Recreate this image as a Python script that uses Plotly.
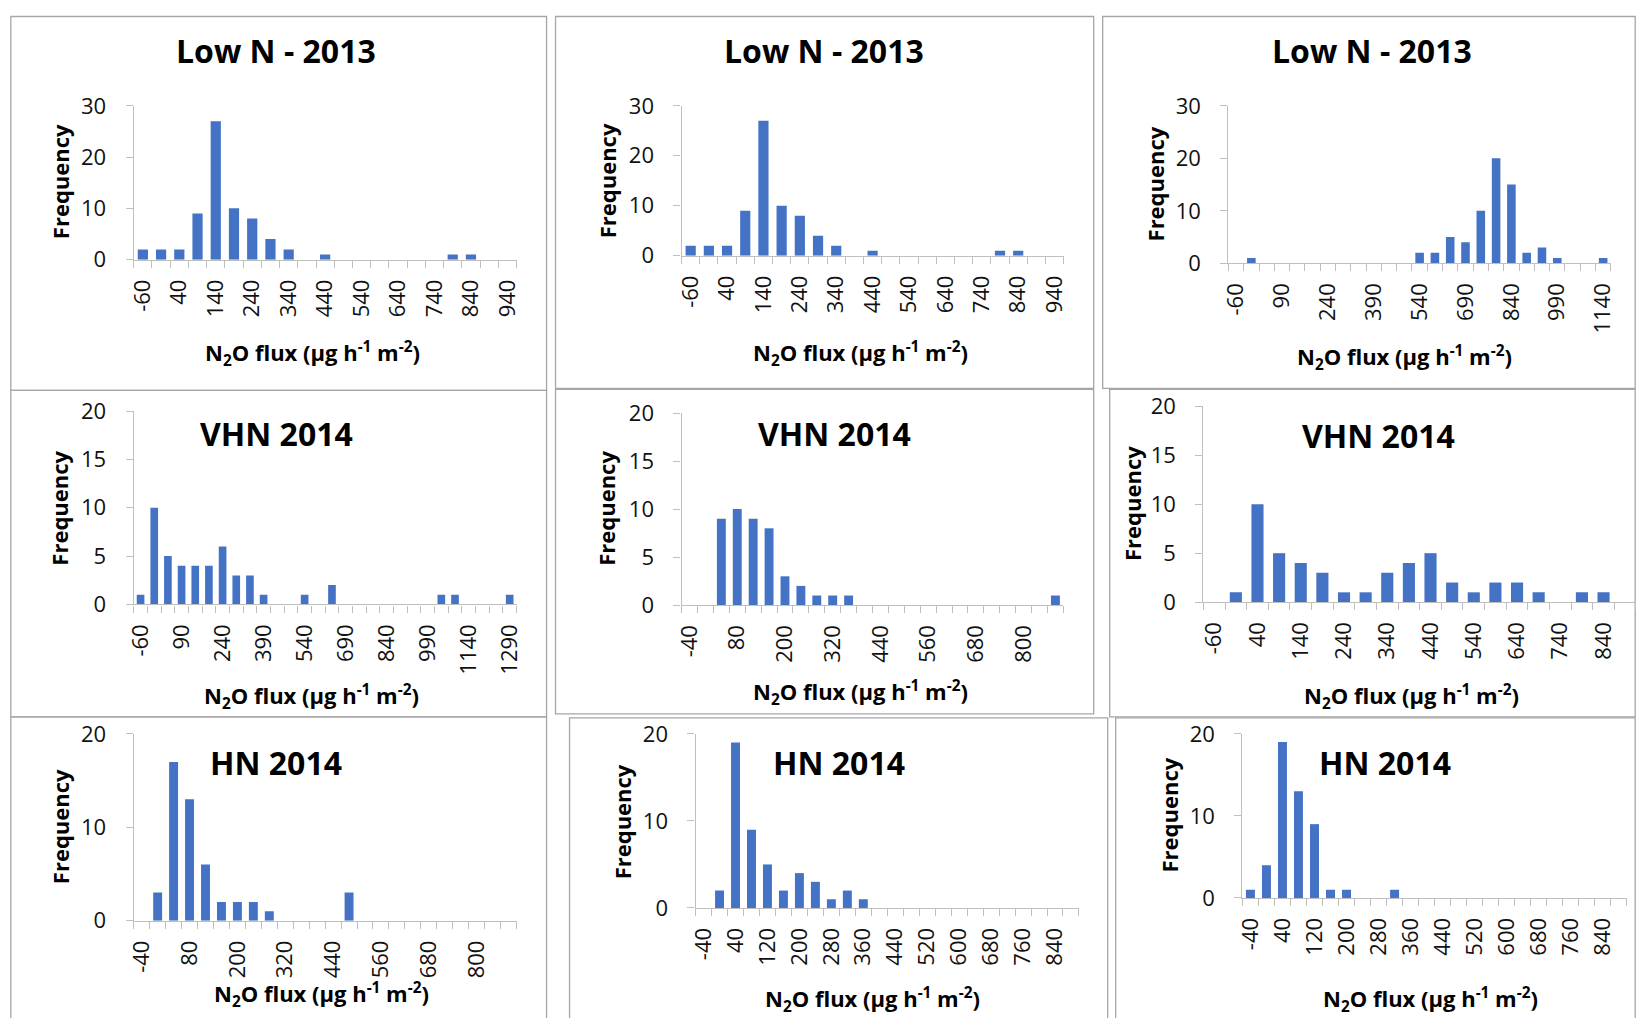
import plotly.graph_objects as go

# ---------------- data ----------------
# Low N - 2013 (left)
lown_a_bins = [-60, -10, 40, 90, 140, 190, 240, 290, 340, 390, 440, 490, 540, 590, 640, 690, 740, 790, 840, 890, 940]
lown_a_freq = [2, 2, 2, 9, 27, 10, 8, 4, 2, 0, 1, 0, 0, 0, 0, 0, 0, 1, 1, 0, 0]
lown_a_ticks = [-60, 40, 140, 240, 340, 440, 540, 640, 740, 840, 940]

# Low N - 2013 (middle)
lown_b_bins = [-60, -10, 40, 90, 140, 190, 240, 290, 340, 390, 440, 490, 540, 590, 640, 690, 740, 790, 840, 890, 940]
lown_b_freq = [2, 2, 2, 9, 27, 10, 8, 4, 2, 0, 1, 0, 0, 0, 0, 0, 0, 1, 1, 0, 0]
lown_b_ticks = [-60, 40, 140, 240, 340, 440, 540, 640, 740, 840, 940]

# Low N - 2013 (right)
lown_c_bins = [-60, -10, 40, 90, 140, 190, 240, 290, 340, 390, 440, 490, 540, 590, 640, 690, 740, 790, 840, 890,
               940, 990, 1040, 1090, 1140]
lown_c_freq = [0, 1, 0, 0, 0, 0, 0, 0, 0, 0, 0, 0, 2, 2, 5, 4, 10, 20, 15, 2, 3, 1, 0, 0, 1]
lown_c_ticks = [-60, 90, 240, 390, 540, 690, 840, 990, 1140]

# VHN 2014 (left)
vhn_a_bins = [-60, -10, 40, 90, 140, 190, 240, 290, 340, 390, 440, 490, 540, 590, 640, 690, 740, 790, 840, 890,
              940, 990, 1040, 1090, 1140, 1190, 1240, 1290]
vhn_a_freq = [1, 10, 5, 4, 4, 4, 6, 3, 3, 1, 0, 0, 1, 0, 2, 0, 0, 0, 0, 0, 0, 0, 1, 1, 0, 0, 0, 1]
vhn_a_ticks = [-60, 90, 240, 390, 540, 690, 840, 990, 1140, 1290]

# VHN 2014 (middle)
vhn_b_bins = [-40, 0, 40, 80, 120, 160, 200, 240, 280, 320, 360, 400, 440, 480, 520, 560, 600, 640, 680, 720,
              760, 800, 840, 880]
vhn_b_freq = [0, 0, 9, 10, 9, 8, 3, 2, 1, 1, 1, 0, 0, 0, 0, 0, 0, 0, 0, 0, 0, 0, 0, 1]
vhn_b_ticks = [-40, 80, 200, 320, 440, 560, 680, 800]

# VHN 2014 (right)
vhn_c_bins = [-60, -10, 40, 90, 140, 190, 240, 290, 340, 390, 440, 490, 540, 590, 640, 690, 740, 790, 840, 890]
vhn_c_freq = [0, 1, 10, 5, 4, 3, 1, 1, 3, 4, 5, 2, 1, 2, 2, 1, 0, 1, 1, 0]
vhn_c_ticks = [-60, 40, 140, 240, 340, 440, 540, 640, 740, 840]

# HN 2014 (left)
hn_a_bins = [-40, 0, 40, 80, 120, 160, 200, 240, 280, 320, 360, 400, 440, 480, 520, 560, 600, 640, 680, 720,
             760, 800, 840, 880]
hn_a_freq = [0, 3, 17, 13, 6, 2, 2, 2, 1, 0, 0, 0, 0, 3, 0, 0, 0, 0, 0, 0, 0, 0, 0, 0]
hn_a_ticks = [-40, 80, 200, 320, 440, 560, 680, 800]

# HN 2014 (middle)
hn_b_bins = [-40, 0, 40, 80, 120, 160, 200, 240, 280, 320, 360, 400, 440, 480, 520, 560, 600, 640, 680, 720,
             760, 800, 840, 880]
hn_b_freq = [0, 2, 19, 9, 5, 2, 4, 3, 1, 2, 1, 0, 0, 0, 0, 0, 0, 0, 0, 0, 0, 0, 0, 0]
hn_b_ticks = [-40, 40, 120, 200, 280, 360, 440, 520, 600, 680, 760, 840]

# HN 2014 (right)
hn_c_bins = [-40, 0, 40, 80, 120, 160, 200, 240, 280, 320, 360, 400, 440, 480, 520, 560, 600, 640, 680, 720,
             760, 800, 840, 880]
hn_c_freq = [1, 4, 19, 13, 9, 1, 1, 0, 0, 1, 0, 0, 0, 0, 0, 0, 0, 0, 0, 0, 0, 0, 0, 0]
hn_c_ticks = [-40, 40, 120, 200, 280, 360, 440, 520, 600, 680, 760, 840]

titles = ["Low N - 2013", "Low N - 2013", "Low N - 2013",
          "VHN 2014", "VHN 2014", "VHN 2014",
          "HN 2014", "HN 2014", "HN 2014"]
y_label = "Frequency"
x_label = "N<sub>2</sub>O flux (μg h<sup>-1</sup> m<sup>-2</sup>)"

# ---------------- layout spec (target pixels) ----------------
W, H = 1642, 1018
# empirical correction of how the page is photographed
CX_A, CX_S = 8.6, 0.99
CY_A, CY_S = 15.0, 0.972
BLUE = "#4472C4"
AX = "#BFBFBF"
BOX = "#A6A6A6"
FONT = "Open Sans"
TICK_SIZE = 22
LABEL_SIZE = 22
TITLE_SIZE = 32

panels = [
    dict(bins=lown_a_bins, freq=lown_a_freq, ticks=lown_a_ticks, ymax=30, ydt=10,
         plot=(132.3, 105, 515, 259), box=(8, 7, 545, 390), tt=(275, 50), xt=(311, 353), yt=(58, 181)),
    dict(bins=lown_b_bins, freq=lown_b_freq, ticks=lown_b_ticks, ymax=30, ydt=10,
         plot=(680, 105, 1062, 255), box=(554, 7, 1092, 388), tt=(822, 50), xt=(859, 353), yt=(605, 180)),
    dict(bins=lown_c_bins, freq=lown_c_freq, ticks=lown_c_ticks, ymax=30, ydt=10,
         plot=(1226.7, 105, 1609, 262.7), box=(1101, 7, 1639, 388), tt=(1370, 50), xt=(1403, 357), yt=(1153, 183)),
    dict(bins=vhn_a_bins, freq=vhn_a_freq, ticks=vhn_a_ticks, ymax=20, ydt=5,
         plot=(132.3, 410.7, 515, 604.3), box=(8, 390, 545, 717), tt=(275, 433), xt=(310, 697), yt=(58, 508)),
    dict(bins=vhn_b_bins, freq=vhn_b_freq, ticks=vhn_b_ticks, ymax=20, ydt=5,
         plot=(680, 412.7, 1061.7, 605), box=(554, 389, 1092, 714), tt=(833, 433), xt=(859, 693), yt=(605, 508)),
    dict(bins=vhn_c_bins, freq=vhn_c_freq, ticks=vhn_c_ticks, ymax=20, ydt=5,
         plot=(1201.7, 406, 1640, 602), box=(1108, 389, 1639, 717), tt=(1377, 435), xt=(1410, 697), yt=(1131, 503)),
    dict(bins=hn_a_bins, freq=hn_a_freq, ticks=hn_a_ticks, ymax=20, ydt=10,
         plot=(132.3, 734, 515, 921), box=(8, 717, 545, 1040), tt=(275, 763), xt=(320, 995), yt=(58, 827)),
    dict(bins=hn_b_bins, freq=hn_b_freq, ticks=hn_b_ticks, ymax=20, ydt=10,
         plot=(694, 734, 1077.3, 908.3), box=(568, 718, 1106, 1040), tt=(837, 763), xt=(871, 1000), yt=(620, 822)),
    dict(bins=hn_c_bins, freq=hn_c_freq, ticks=hn_c_ticks, ymax=20, ydt=10,
         plot=(1240.7, 734, 1625, 898.3), box=(1114, 718, 1639, 1040), tt=(1383, 763), xt=(1429, 1000), yt=(1167, 815)),
]


def px(x):
    return (x - CX_A) / CX_S / W


def py(y):
    return 1 - (y - CY_A) / CY_S / H


def clamp(v, lo=0.0, hi=1.0):
    return max(lo, min(hi, v))


fig = go.Figure()
annotations = []
shapes = []

for i, p in enumerate(panels, start=1):
    sfx = "" if i == 1 else str(i)
    bins = p["bins"]
    bw = bins[1] - bins[0]
    fig.add_trace(go.Bar(
        x=bins, y=p["freq"], width=bw * 0.56,
        marker=dict(color=BLUE, line=dict(width=0)),
        xaxis="x" + sfx, yaxis="y" + sfx, showlegend=False,
    ))
    x0, y0, x1, y1 = p["plot"]
    fig.layout["xaxis" + sfx] = dict(
        domain=[clamp(px(x0)), clamp(px(x1))], anchor="y" + sfx,
        range=[bins[0] - bw / 2, bins[-1] + bw / 2],
        tickmode="array", tickvals=p["ticks"], ticktext=[str(t) for t in p["ticks"]],
        tickangle=-90, ticks="", ticklabelstandoff=10,
        minor=dict(ticks="outside", ticklen=7, tickcolor=AX, tickwidth=1,
                   tick0=bins[0] - bw / 2, dtick=bw, showgrid=False),
        showline=True, linecolor=AX, linewidth=1.3, showgrid=False, zeroline=False,
        tickfont=dict(family=FONT, size=TICK_SIZE, color="#111111"),
    )
    fig.layout["yaxis" + sfx] = dict(
        domain=[clamp(py(y1)), clamp(py(y0))], anchor="x" + sfx,
        range=[0, p["ymax"]], dtick=p["ydt"], tick0=0,
        ticks="outside", ticklen=7, tickcolor=AX, tickwidth=1,
        showline=True, linecolor=AX, linewidth=1.3, showgrid=False, zeroline=False,
        ticklabelstandoff=15,
        tickfont=dict(family=FONT, size=TICK_SIZE, color="#111111"),
    )
    bx0, by0, bx1, by1 = p["box"]
    shapes.append(dict(type="rect", xref="paper", yref="paper",
                       x0=clamp(px(bx0), 0.0005, 0.9995), x1=clamp(px(bx1), 0.0005, 0.9995),
                       y0=py(by1), y1=clamp(py(by0), 0, 0.9995),
                       line=dict(color=BOX, width=1.3), layer="below"))
    annotations.append(dict(text="<b>" + titles[i - 1] + "</b>", xref="paper", yref="paper",
                            x=px(p["tt"][0]), y=py(p["tt"][1]), xanchor="center", yanchor="middle",
                            showarrow=False, font=dict(family=FONT, size=TITLE_SIZE, color="#000000")))
    annotations.append(dict(text="<b>" + x_label + "</b>", xref="paper", yref="paper",
                            x=px(p["xt"][0]), y=py(p["xt"][1]), xanchor="center", yanchor="middle",
                            showarrow=False, font=dict(family=FONT, size=LABEL_SIZE, color="#000000")))
    annotations.append(dict(text="<b>" + y_label + "</b>", xref="paper", yref="paper",
                            x=px(p["yt"][0]), y=py(p["yt"][1]), xanchor="center", yanchor="middle",
                            textangle=-90, showarrow=False,
                            font=dict(family=FONT, size=LABEL_SIZE, color="#000000")))

fig.update_layout(
    width=W, height=H, margin=dict(l=0, r=0, t=0, b=0),
    paper_bgcolor="white", plot_bgcolor="white",
    bargap=0.44, showlegend=False,
    annotations=annotations, shapes=shapes,
    font=dict(family=FONT, color="#111111"),
)

fig.write_html("out.html", config=dict(displayModeBar=False),
               post_script="document.body.style.margin='0';")
